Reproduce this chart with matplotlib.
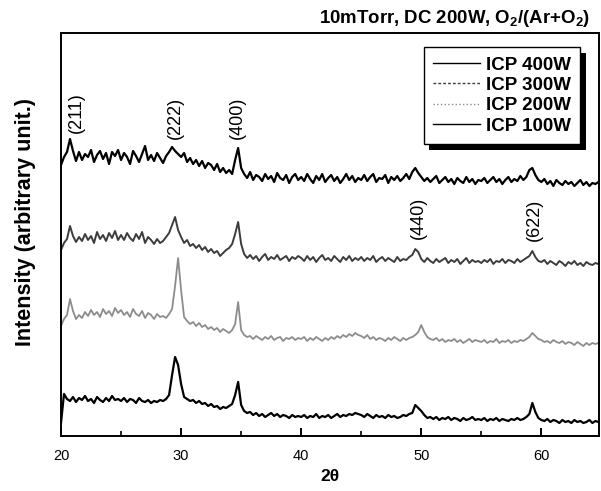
import numpy as np
import matplotlib
matplotlib.use("Agg")
import matplotlib.pyplot as plt
import matplotlib.patheffects as pe
from matplotlib.lines import Line2D
from matplotlib.ticker import MultipleLocator

plt.rcParams['font.family'] = ['Liberation Sans', 'DejaVu Sans']
plt.rcParams['mathtext.fontset'] = 'custom'
plt.rcParams['mathtext.rm'] = 'Liberation Sans'
plt.rcParams['mathtext.bf'] = 'Liberation Sans:bold'

# 2theta sampling grid (degrees), 20.00 ... 64.75 in 0.25 steps
two_theta = np.arange(180) * 0.25 + 20.0

icp_400 = [
    271, 279, 284, 297, 285, 275, 284, 276, 282, 279, 286, 274, 281, 285, 277, 283, 272, 284, 280, 286,
    276, 283, 279, 272, 285, 280, 274, 282, 290, 276, 281, 275, 283, 278, 273, 280, 284, 289, 285, 282,
    279, 283, 274, 278, 272, 276, 270, 275, 268, 273, 271, 266, 272, 264, 268, 263, 266, 262, 276, 288,
    268, 262, 258, 264, 256, 261, 259, 255, 262, 257, 260, 254, 263, 258, 256, 261, 253, 259, 262, 256,
    259, 255, 262, 257, 253, 260, 256, 262, 254, 258, 261, 255, 259, 253, 257, 262, 256, 260, 254, 258,
    256, 261, 255, 259, 262, 254, 258, 257, 261, 253, 259, 256, 260, 255, 258, 262, 257, 264, 268, 263,
    259, 255, 258, 254, 257, 260, 253, 256, 259, 254, 257, 252, 258, 255, 253, 259, 254, 257, 252, 256,
    255, 258, 253, 256, 259, 254, 257, 252, 256, 259, 254, 257, 255, 260, 256, 259, 266, 268, 261, 256,
    254, 257, 252, 255, 250, 256, 253, 251, 255, 252, 254, 250, 253, 256, 251, 254, 250, 253, 252, 254,
]
icp_300 = [
    186, 193, 197, 210, 200, 194, 199, 195, 202, 196, 200, 193, 204, 197, 201, 195, 203, 198, 205, 196,
    201, 196, 203, 198, 195, 202, 197, 204, 193, 199, 196, 192, 197, 193, 195, 199, 203, 211, 219, 206,
    199, 193, 196, 190, 192, 188, 191, 186, 189, 184, 187, 183, 185, 180, 183, 186, 188, 192, 202, 214,
    192, 182, 178, 181, 177, 180, 175, 179, 182, 176, 179, 177, 181, 176, 178, 180, 175, 179, 177, 180,
    178, 175, 180, 176, 179, 174, 178, 181, 176, 178, 175, 180, 177, 174, 179, 176, 180, 175, 178, 176,
    179, 175, 178, 176, 180, 174, 177, 179, 175, 178, 176, 174, 179, 175, 177, 176, 179, 181, 187, 184,
    177, 174, 178, 175, 173, 177, 174, 176, 178, 173, 176, 174, 177, 172, 175, 178, 173, 176, 174, 175,
    173, 176, 174, 177, 172, 175, 174, 177, 173, 176, 175, 173, 177, 174, 176, 178, 180, 185, 179, 175,
    174, 176, 172, 175, 173, 171, 175, 173, 170, 174, 172, 175, 171, 173, 170, 174, 172, 171, 173, 172,
]
icp_200 = [
    110, 117, 121, 137, 125, 117, 121, 118, 124, 120, 126, 121, 124, 119, 127, 122, 125, 120, 128, 123,
    126, 121, 124, 119, 127, 122, 120, 125, 118, 123, 121, 117, 122, 119, 120, 118, 122, 127, 150, 178,
    146, 119, 115, 112, 114, 110, 113, 109, 111, 107, 109, 106, 108, 104, 107, 105, 103, 106, 112, 134,
    106, 101, 99, 100, 97, 100, 98, 96, 99, 97, 100, 96, 98, 99, 95, 98, 97, 99, 96, 98,
    97, 99, 95, 98, 96, 99, 97, 95, 98, 96, 99, 97, 100, 98, 101, 99, 102, 100, 103, 101,
    100, 98, 101, 97, 99, 96, 98, 97, 95, 98, 96, 99, 97, 95, 98, 96, 98, 99, 101, 104,
    111, 104, 99, 97, 96, 98, 95, 97, 94, 96, 95, 97, 94, 96, 93, 95, 97, 94, 96, 95,
    94, 96, 93, 95, 94, 97, 93, 95, 94, 96, 93, 95, 94, 96, 95, 97, 99, 103, 100, 97,
    96, 94, 95, 93, 96, 94, 93, 95, 92, 94, 93, 91, 94, 92, 90, 93, 91, 93, 92, 93,
]
icp_100 = [
    13, 42, 37, 35, 39, 34, 38, 36, 40, 35, 37, 33, 39, 36, 34, 38, 35, 40, 36, 37,
    35, 38, 34, 37, 36, 33, 38, 35, 34, 36, 33, 35, 34, 36, 35, 37, 41, 61, 79, 71,
    52, 39, 37, 35, 36, 33, 35, 32, 33, 30, 32, 29, 30, 27, 29, 28, 30, 32, 41, 54,
    31, 25, 23, 24, 21, 23, 20, 22, 19, 21, 23, 20, 22, 19, 21, 20, 18, 21, 19, 20,
    19, 21, 18, 20, 19, 22, 18, 20, 19, 21, 18, 20, 22, 19, 21, 20, 22, 21, 23, 22,
    21, 19, 22, 20, 18, 21, 19, 20, 18, 21, 19, 20, 18, 19, 21, 20, 22, 23, 31, 28,
    25, 21, 18, 19, 17, 19, 16, 18, 17, 19, 16, 18, 17, 15, 18, 16, 17, 19, 16, 17,
    16, 18, 15, 17, 16, 18, 15, 17, 16, 15, 17, 16, 18, 16, 17, 19, 22, 33, 24, 18,
    16, 15, 17, 14, 16, 15, 13, 16, 14, 15, 13, 16, 14, 15, 13, 14, 16, 13, 15, 14,
]

series_labels = ["ICP 400W", "ICP 300W", "ICP 200W", "ICP 100W"]
series_colors = ["black", "#3c3c3c", "#8c8c8c", "black"]
series_widths = [1.6, 1.4, 1.3, 1.6]
legend_styles = ["-", (0, (2, 1.5)), ":", "-"]

peak_labels = ["(211)", "(222)", "(400)", "(440)", "(622)"]
peak_pos = [21.3, 29.5, 34.7, 49.75, 59.4]
peak_label_y = [323, 318, 318, 218, 216]

fig = plt.figure(figsize=(6.01, 4.91), dpi=100)
ax = fig.add_axes([61/601, 1 - 436/491, 538/601, 403/491])

for vals, col, lw in zip([icp_400, icp_300, icp_200, icp_100], series_colors, series_widths):
    ax.plot(two_theta, vals, color=col, lw=lw)

for lab, xp, yp in zip(peak_labels, peak_pos, peak_label_y):
    ax.text(xp, yp, lab, rotation=90, ha='center', va='center', fontsize=13)

ax.set_xlim(20, 64.8)
ax.set_ylim(0, 403)
ax.set_yticks([])
ax.xaxis.set_major_locator(MultipleLocator(10))
ax.xaxis.set_minor_locator(MultipleLocator(5))
ax.tick_params(axis='x', which='major', direction='in', length=6, width=1.4, labelsize=10.5, pad=9)
ax.tick_params(axis='x', which='minor', direction='in', length=3.5, width=1.2)
for s in ax.spines.values():
    s.set_linewidth(1.4)

ax.set_xlabel("2θ", fontsize=12.5, fontweight='bold', labelpad=5)
ax.set_ylabel("Intensity (arbitrary unit.)", fontsize=15.5, fontweight='bold')
ax.yaxis.set_label_coords(-0.047, 0.53)

fig.text(0.982, 0.963, r"10mTorr, DC 200W, O$_\mathbf{2}$/(Ar+O$_\mathbf{2}$)",
         ha='right', va='center', fontsize=13.4, fontweight='bold')

handles = [Line2D([], [], color=c, ls=ls, lw=1.0) for c, ls in zip(series_colors, legend_styles)]
leg = ax.legend(handles, series_labels, loc='upper right', bbox_to_anchor=(0.965, 0.965),
                borderaxespad=0, frameon=True, fancybox=False, edgecolor='black', framealpha=1,
                prop={'weight': 'bold', 'size': 13.5}, handlelength=2.5, handletextpad=0.3,
                labelspacing=0.17, borderpad=0.5)
frame = leg.get_frame()
frame.set_linewidth(1.0)
frame.set_path_effects([
    pe.SimplePatchShadow(offset=(4, -4.3), shadow_rgbFace='black', alpha=1.0),
    pe.Normal(),
])
leg.set_zorder(10)

fig.savefig("out.png", dpi=100)
